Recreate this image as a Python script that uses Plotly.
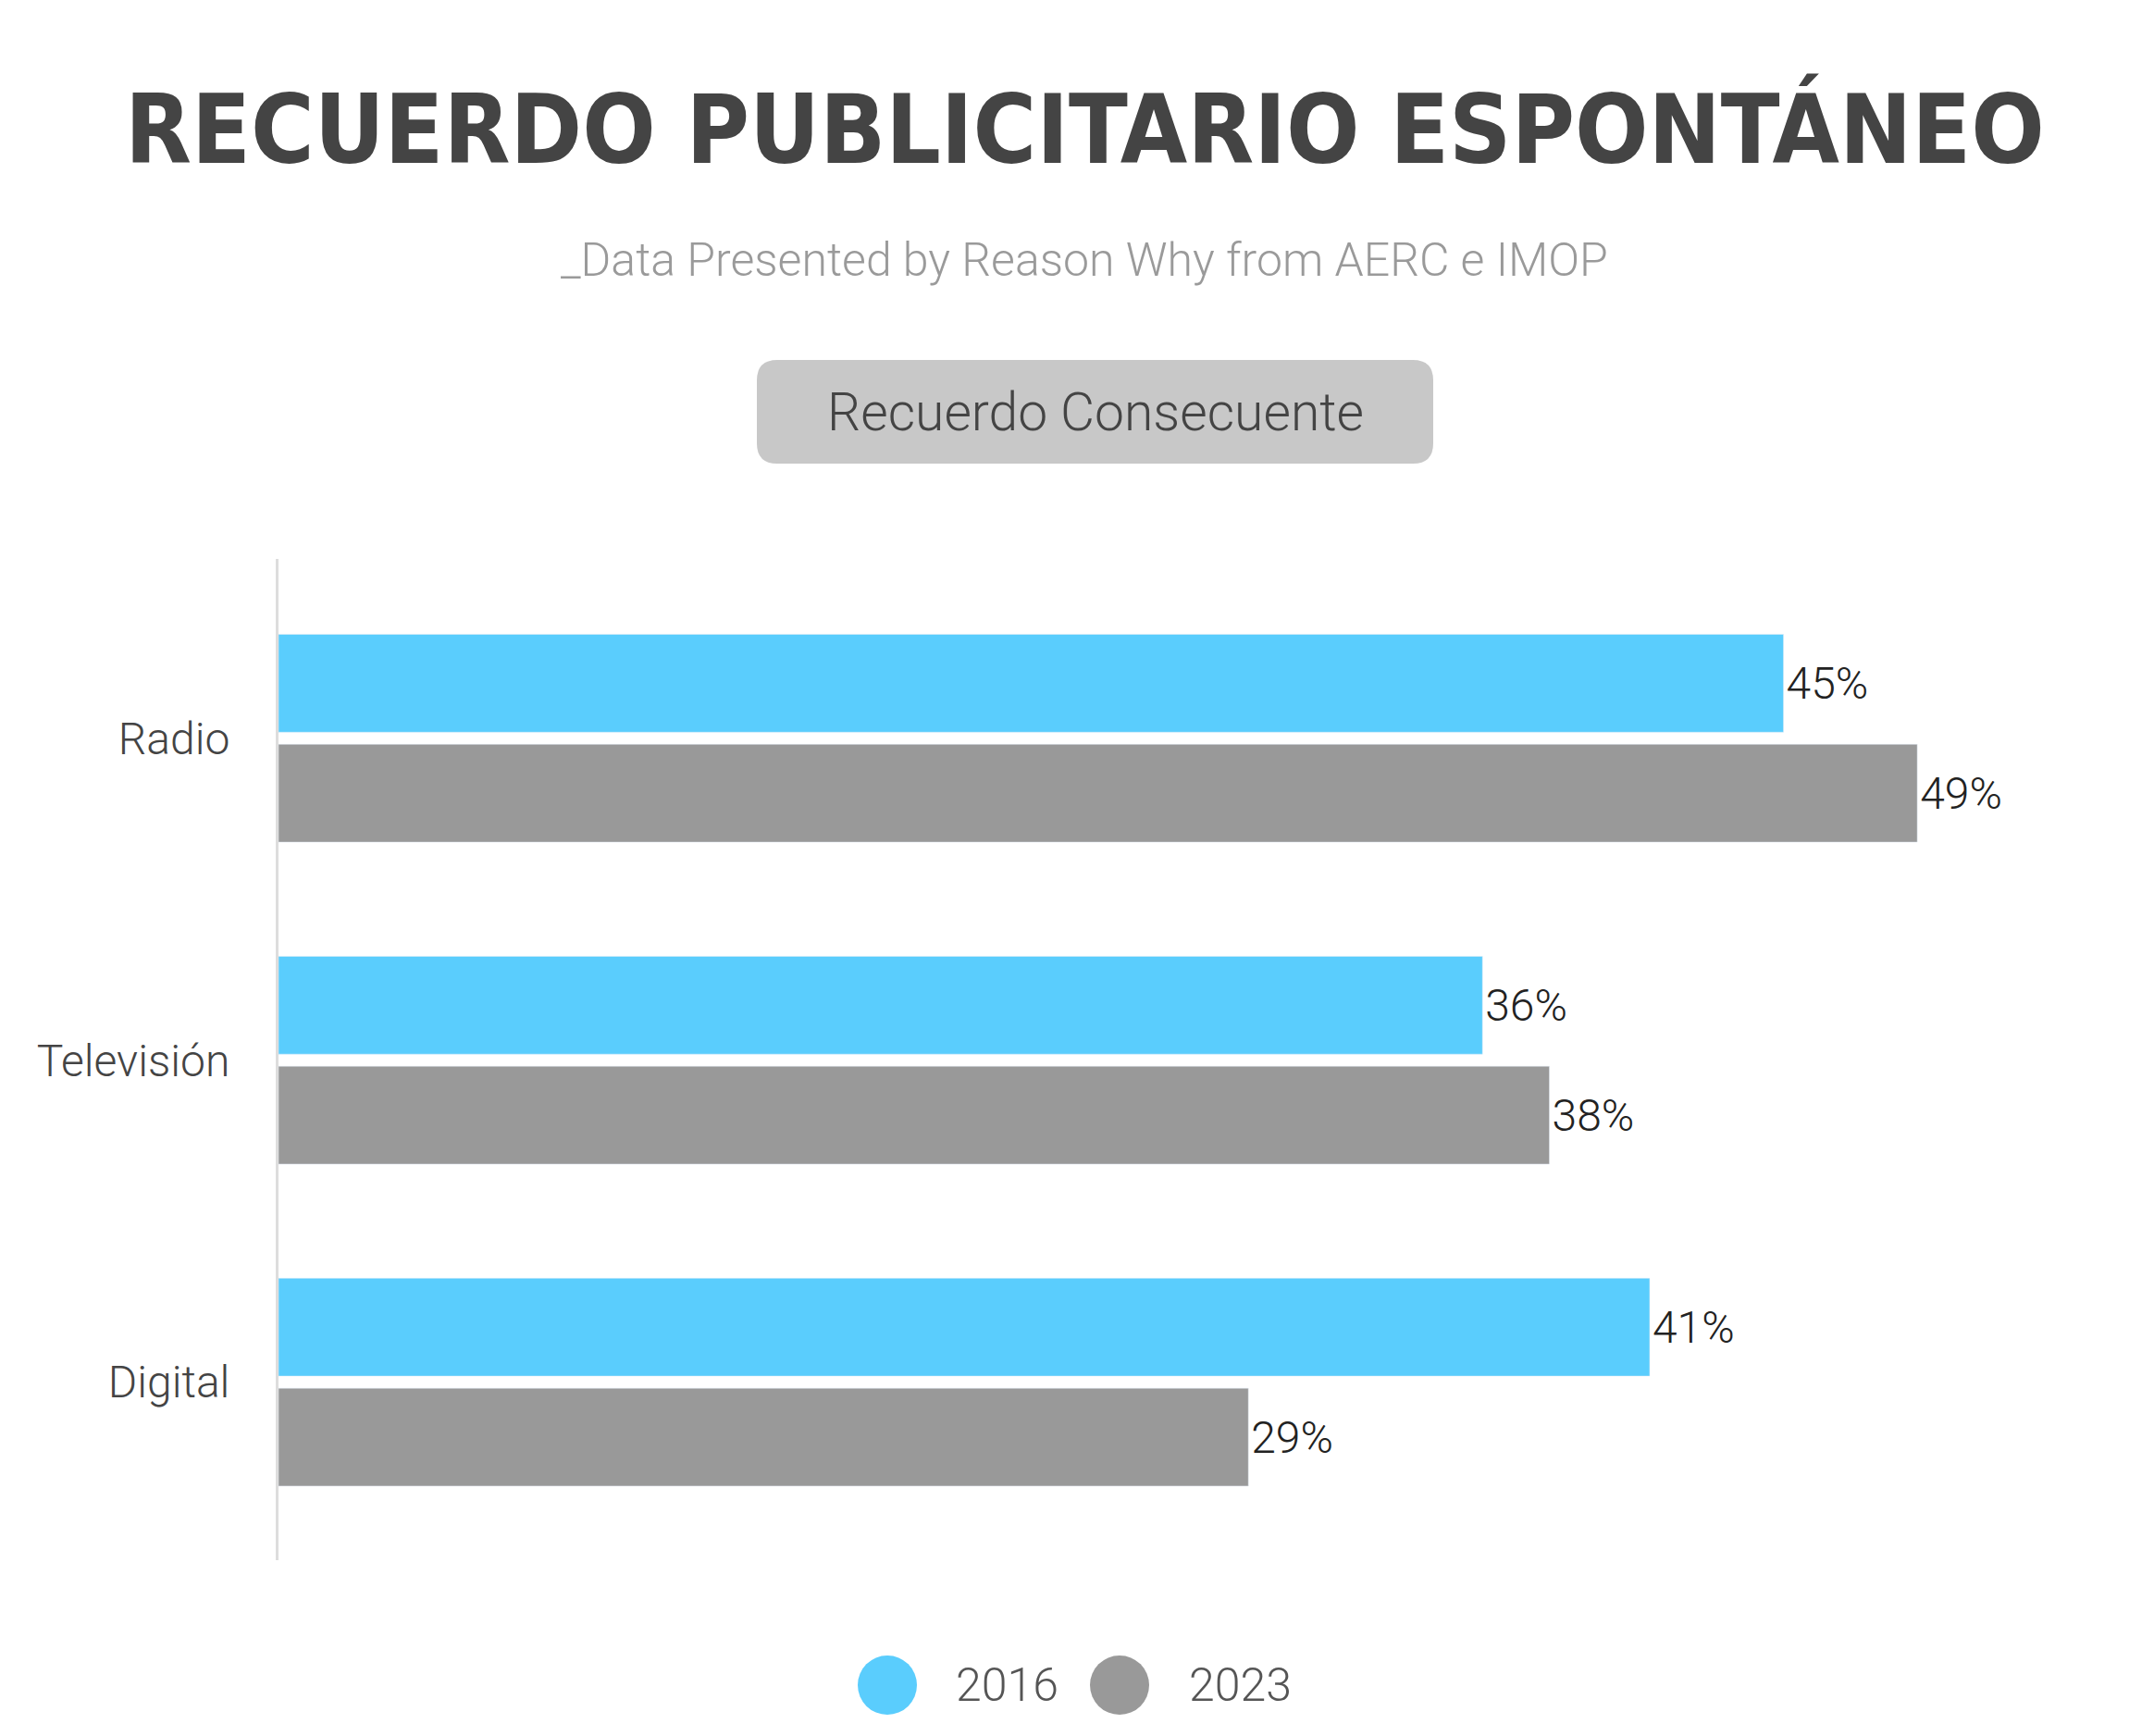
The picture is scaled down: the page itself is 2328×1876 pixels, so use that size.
import plotly.graph_objects as go

categories = ["Radio", "Televisión", "Digital"]
series_names = ["2016", "2023"]
values_2016 = [45, 36, 41]
values_2023 = [49, 38, 29]
colors = ["#5acdfd", "#999999"]

W, H = 2328, 1876
L, R, T, B = 293, 47, 596, 198
pw, ph = W - L - R, H - T - B
def px(x): return (x - L) / pw
def py(y): return (H - B - y) / ph

fig = go.Figure()
for name, vals, c in zip(series_names, [values_2016, values_2023], colors):
    fig.add_trace(go.Bar(
        y=categories, x=vals, orientation="h", name=name, marker_color=c,
        text=[f"{v}%" for v in vals], textposition="outside", cliponaxis=False,
        textfont=dict(family="Roboto", size=48, color="#222", weight=300),
        showlegend=False))

shapes = []
# rounded button
x0, x1, y0, y1, r = 810, 1541, 381, 493, 22
rx, ry = r / pw, r / ph
X0, X1, Y0, Y1 = px(x0), px(x1), py(y1), py(y0)
path = (f"M {X0+rx},{Y0} L {X1-rx},{Y0} Q {X1},{Y0} {X1},{Y0+ry} L {X1},{Y1-ry} "
        f"Q {X1},{Y1} {X1-rx},{Y1} L {X0+rx},{Y1} Q {X0},{Y1} {X0},{Y1-ry} "
        f"L {X0},{Y0+ry} Q {X0},{Y0} {X0+rx},{Y0} Z")
shapes.append(dict(type="path", xref="paper", yref="paper", path=path,
                   fillcolor="#c8c8c8", line=dict(width=0), layer="below"))
# legend circles
annotations = []
for (cx, tx), name, c in zip([(951, 1023), (1202, 1275)], series_names, colors):
    shapes.append(dict(type="circle", xref="paper", yref="paper",
                       x0=px(cx - 32), x1=px(cx + 32), y0=py(1813 + 32), y1=py(1813 - 32),
                       fillcolor=c, line=dict(width=0)))
    annotations.append(dict(x=px(tx), y=py(1813), xref="paper", yref="paper", text=name,
                            showarrow=False, xanchor="left", yanchor="middle",
                            font=dict(family="Roboto", size=50, color="#555", weight=300)))

annotations += [
    dict(x=0.5 * W, y=132, text="<b>RECUERDO PUBLICITARIO ESPONTÁNEO</b>"),
    dict(x=0.5 * W, y=273, text="_Data Presented by Reason Why from AERC e IMOP"),
    dict(x=(x0 + x1) / 2, y=437, text="Recuerdo Consecuente"),
]
fonts = [dict(family="DejaVu Sans Condensed", size=104, color="#444"),
         dict(family="Roboto", size=50, color="#9a9a9a", weight=300),
         dict(family="Roboto", size=57, color="#444", weight=300)]
for a, f in zip(annotations[-3:], fonts):
    a.update(x=px(a["x"]), y=py(a["y"]), xref="paper", yref="paper", showarrow=False,
             xanchor="center", yanchor="middle", font=f)

fig.update_layout(
    width=W, height=H, margin=dict(l=L, r=R, t=T, b=B),
    paper_bgcolor="white", plot_bgcolor="white",
    barmode="group", bargap=0.317, bargroupgap=0.11,
    xaxis=dict(range=[0, 55], visible=False),
    yaxis=dict(autorange=False, range=[2.553, -0.557], showgrid=False,
               showline=True, linecolor="#dddddd", linewidth=3, ticks="",
               ticklabelstandoff=40,
               tickfont=dict(family="Roboto", size=48, color="#444", weight=300)),
    shapes=shapes, annotations=annotations)
fig.write_html("out.html")
